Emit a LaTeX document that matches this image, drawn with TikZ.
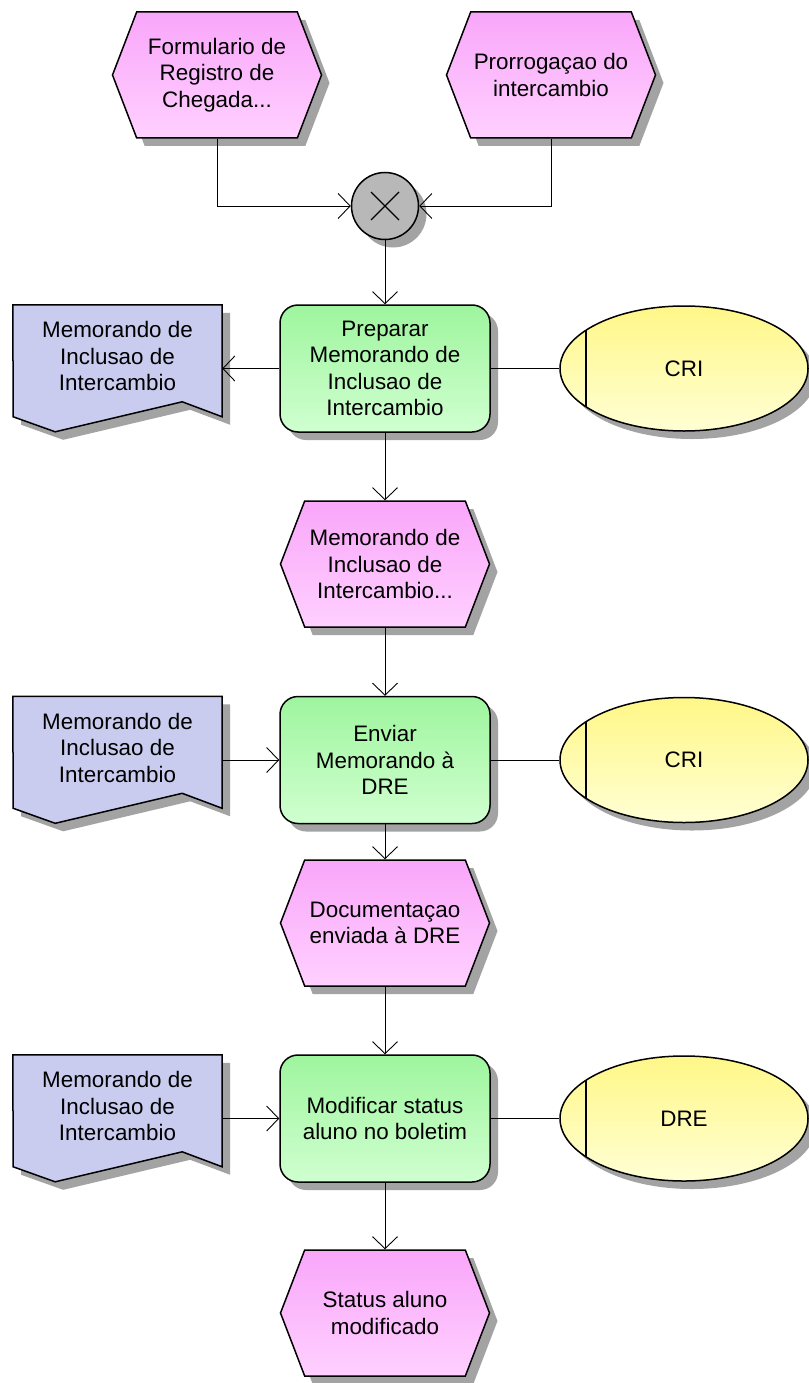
\documentclass[tikz,border=0pt]{standalone}
\usepackage{fontspec}
\setmainfont{Liberation Sans}
\usetikzlibrary{arrows.meta,shapes.geometric,shapes.symbols,shadows,backgrounds}
\definecolor{evtop}{RGB}{249,166,249}
\definecolor{evbot}{RGB}{255,208,255}
\definecolor{fntop}{RGB}{158,245,158}
\definecolor{fnbot}{RGB}{208,255,208}
\definecolor{ortop}{RGB}{255,247,135}
\definecolor{orbot}{RGB}{255,255,212}
\definecolor{memofill}{RGB}{201,204,239}
\definecolor{xorfill}{RGB}{184,184,184}
\definecolor{shadowgray}{RGB}{163,163,163}
\begin{document}
\begin{tikzpicture}[x=1pt,y=-1pt,>={Straight Barb[length=12pt,width=25pt]},
 font=\fontsize{22.4}{26.5}\selectfont,
 dropped/.style={drop shadow={shadow xshift=8pt,shadow yshift=-8pt,fill=shadowgray,opacity=1}},
 event/.style={signal,signal to=east and west,signal pointer angle=138,
  minimum width=209pt,minimum height=126pt,inner sep=0pt,align=center,
  draw,line width=1.5pt,top color=evtop,bottom color=evbot,dropped},
 func/.style={rectangle,rounded corners=18pt,minimum width=210pt,minimum height=127pt,
  align=center,draw,line width=1.5pt,top color=fntop,bottom color=fnbot,dropped},
 orgunit/.style={ellipse,minimum width=248pt,minimum height=125pt,inner sep=0pt,
  draw,line width=1.5pt,top color=ortop,bottom color=orbot,dropped,
  path picture={\draw[line width=1.5pt] ([xshift=26pt]path picture bounding box.west)
   ++(0,-70) -- ++(0,140);}},
 memo/.style={minimum width=209pt,minimum height=102pt,inner sep=0pt,align=center},
 xor/.style={circle,minimum size=67pt,inner sep=0pt,draw,line width=1.5pt,
  fill=xorfill,dropped,
  path picture={\draw[line width=1.3pt] (path picture bounding box.center)
   ++(-14,-14) -- ++(28,28) ++(0,-28) -- ++(-28,28);}},
 link/.style={line width=0.9pt}]
\useasboundingbox (0,0) rectangle (808,1383);

% events, functions, documents and units
\node[event] (e1) at (217,75) {Formulario de\\Registro de\\Chegada...};
\node[event] (e2) at (551,75) {Prorrogaçao do\\intercambio};
\node[xor] (x1) at (385,206) {};
\node[func] (f1) at (385,368.5) {Preparar\\Memorando de\\Inclusao de\\Intercambio};
\node[memo] (d1) at (117.5,356) {Memorando de\\Inclusao de\\Intercambio};
\node[orgunit] (o1) at (684,368.5) {CRI};
\node[event] (e3) at (385,564) {Memorando de\\Inclusao de\\Intercambio...};
\node[func] (f2) at (385,760) {Enviar\\Memorando à\\DRE};
\node[memo] (d2) at (117.5,747.5) {Memorando de\\Inclusao de\\Intercambio};
\node[orgunit] (o2) at (684,760) {CRI};
\node[event] (e4) at (385,923) {Documentaçao\\enviada à DRE};
\node[func] (f3) at (385,1118.5) {Modificar status\\aluno no boletim};
\node[memo] (d3) at (117.5,1106) {Memorando de\\Inclusao de\\Intercambio};
\node[orgunit] (o3) at (684,1118.5) {DRE};
\node[event] (e5) at (385,1313) {Status aluno\\modificado};

\begin{scope}[on background layer]
\foreach \d in {d1,d2,d3}
 \path[draw,line width=1.5pt,fill=memofill,dropped] (\d.north west) -- (\d.north east)
  -- ++(0,112) -- ++(-40,-15) -- ++(-127,30) -- ++(-42,-15) -- cycle;
\end{scope}

% flow
\draw[link,->] (e1.south) |- (x1.west);
\draw[link,->] (e2.south) |- (x1.east);
\draw[link,->] (x1.south) -- (f1.north);
\draw[link,->] (f1.west) -- (f1.west -| d1.east);
\draw[link] (f1.east) -- (o1.west);
\draw[link,->] (f1.south) -- (e3.north);
\draw[link,->] (e3.south) -- (f2.north);
\draw[link,->] (f2.west -| d2.east) -- (f2.west);
\draw[link] (f2.east) -- (o2.west);
\draw[link,->] (f2.south) -- (e4.north);
\draw[link,->] (e4.south) -- (f3.north);
\draw[link,->] (f3.west -| d3.east) -- (f3.west);
\draw[link] (f3.east) -- (o3.west);
\draw[link,->] (f3.south) -- (e5.north);
\end{tikzpicture}
\end{document}
